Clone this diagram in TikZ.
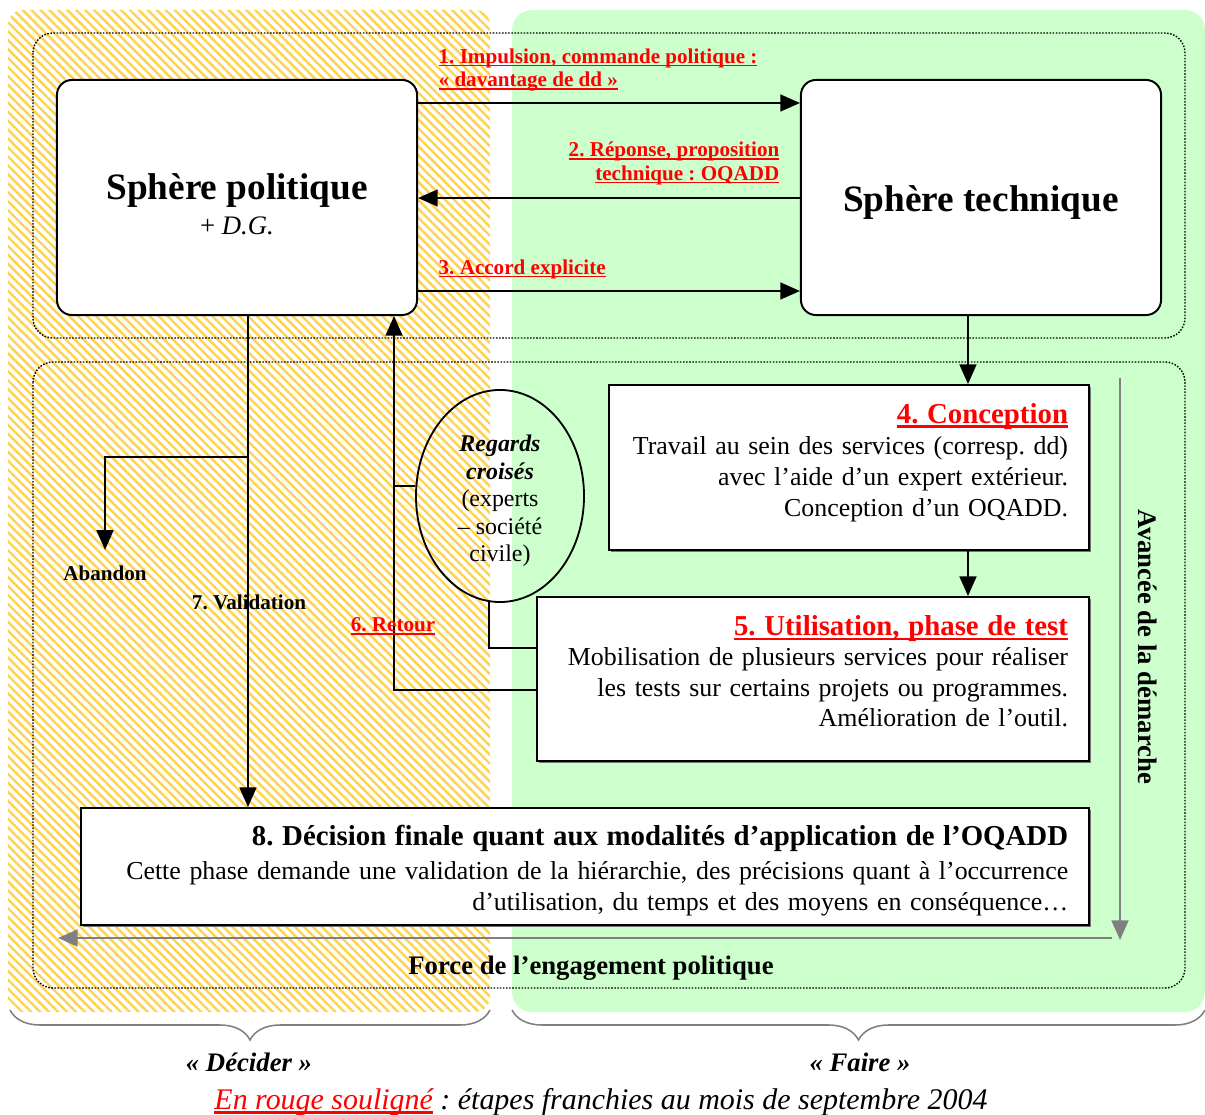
\documentclass[tikz,border=0pt]{standalone}
\usepackage{fontspec}
\setmainfont{Liberation Serif}
\usepackage{xcolor}
\usetikzlibrary{arrows.meta,positioning,calc,shapes.geometric,shadows,
                patterns.meta,decorations.pathreplacing}
\frenchspacing
\definecolor{fairegreen}{HTML}{CCFFCC}
\definecolor{deciderhatch}{HTML}{FFD24D}
\definecolor{avancegrey}{HTML}{808080}
\definecolor{rougeetape}{HTML}{FF0000}
\newsavebox\soulbox
\newcommand{\souligne}[1]{\sbox\soulbox{#1}%
  \rlap{\rule[-0.16em]{\wd\soulbox}{0.09em}}\usebox\soulbox}
\newcommand{\etape}[1]{{\color{rougeetape}\bfseries\souligne{#1}}}
\tikzset{
  sphere/.style={draw, rounded corners=0.375cm, line width=1.4pt, fill=white,
                 minimum width=9cm, minimum height=5.875cm, align=center},
  phase/.style={draw, line width=1.3pt, fill=white, align=right,
                inner xsep=0.525cm, font=\fontsize{18.4}{22}\selectfont,
                drop shadow={shadow xshift=1.5pt, shadow yshift=-1.5pt,
                             fill=black!55, opacity=1}},
  fleche/.style={-{Triangle[length=14pt,width=12pt]}, line width=1.4pt},
  lien/.style={line width=1.4pt},
  guide/.style={-{Triangle[length=14pt,width=12pt]}, line width=1.6pt,
                draw=avancegrey},
  cadre/.style={draw, line width=1pt, dash pattern=on 1.1pt off 1.1pt,
                rounded corners=0.5cm},
  accolade/.style={draw=avancegrey, line width=1.1pt,
                   decorate, decoration={brace, mirror, amplitude=0.75cm}},
  lbl/.style={font=\fontsize{15}{17}\selectfont\bfseries, inner sep=1pt},
  titre/.style={font=\fontsize{19}{22}\selectfont\bfseries, inner sep=1pt},
}

\begin{document}
\begin{tikzpicture}[x=0.025cm, y=-0.025cm]
\useasboundingbox (0,0) rectangle (1205,1115);

% ---------------- decider / faire zones ----------------------------------
\fill[fairegreen, rounded corners=0.5cm] (512,10) rectangle (1205,1012);
\fill[pattern={Lines[angle=-45,distance=4.5pt,line width=1.7pt]},
      pattern color=deciderhatch, rounded corners=0.375cm]
   (8,10) rectangle (490,1012);
\draw[cadre] (33,33) rectangle (1185,338);
\draw[cadre] (33,362) rectangle (1185,988);

% ---------------- the two spheres ----------------------------------------
\node[sphere, font=\fontsize{19}{27}\selectfont] at (237,197.5) (pol)
   {{\fontsize{26.5}{30}\selectfont\bfseries\rule{0pt}{28pt}Sphère politique}\\[-2pt]
    + \textit{D.G.}};
\node[sphere] at (981,197.5) (tech)
   {\fontsize{26.5}{30}\selectfont\bfseries\rule{0pt}{25pt}Sphère technique};

\draw[fleche] ($(pol.east)+(0,-94.5)$) -- ($(tech.west)+(0,-94.5)$);
\draw[fleche] ($(tech.west)+(0,0.5)$) -- ($(pol.east)+(0,0.5)$);
\draw[fleche] ($(pol.east)+(0,93.5)$) -- ($(tech.west)+(0,93.5)$);

\node[lbl, align=left, anchor=west] at (437,70) (impul)
   {\etape{1. Impulsion, commande politique :}\\
    \etape{«~davantage de dd~»}};
\node[lbl, align=right, anchor=east] at (781,163) (repon)
   {\etape{2. Réponse, proposition}\\
    \etape{technique : OQADD}};
\node[lbl, anchor=west] at (437,269) (accord) {\etape{3. Accord explicite}};

% ---------------- conception and test ------------------------------------
\node[phase, minimum width=12cm, minimum height=4.125cm, text width=10.95cm]
   at (849,467.5) (conc)
   {{\fontsize{20.5}{24}\selectfont\etape{4. Conception}}\\
    Travail au sein des services (corresp.~dd)\\
    avec l’aide d’un expert extérieur.\\
    Conception d’un OQADD.\rule[-11pt]{0pt}{1pt}};
\node[phase, minimum width=13.8cm, minimum height=4.1cm, text width=12.75cm]
   at (813,679) (test)
   {{\fontsize{20.5}{24}\selectfont\etape{5. Utilisation, phase de test}}\\[-1pt]
    Mobilisation de plusieurs services pour réaliser\\
    les tests sur certains projets ou programmes.\\
    Amélioration de l’outil.\rule[-11pt]{0pt}{1pt}};
\coordinate (tc) at ($(tech.south)+(-13,0)$);
\draw[fleche] (tc) -- (tc |- conc.north);
\draw[fleche] (tc |- conc.south) -- (tc |- test.north);

% ---------------- regards croises and retour -----------------------------
\node[ellipse, draw, line width=1.3pt, minimum width=4.2cm, minimum height=5.3cm,
      align=center, inner sep=0pt, font=\fontsize{17}{19.6}\selectfont]
   at (500,496) (regard)
   {{\bfseries\itshape\rule{0pt}{19pt}Regards}\\{\bfseries\itshape croisés}\\(experts\\
    – société\\civile)};
\coordinate (retx) at ($(pol.south east)+(-24,0)$);
\draw[fleche] ($(test.west)+(0,11)$) -| (retx);
\draw[lien] (regard.173) -- (regard.173 -| retx);
\draw[lien] (regard.264) |- ($(test.west)+(0,-31)$);
\node[lbl] at (393,626) (retour) {\etape{6. Retour}};

% ---------------- validation / abandon -----------------------------------
\node[phase, minimum width=25.2cm, minimum height=2.925cm, text width=24.15cm,
      font=\fontsize{18.4}{21.5}\selectfont]
   at (585,866.5) (decis)
   {{\fontsize{20.5}{24}\selectfont\bfseries\rule{0pt}{20pt}8. Décision finale quant aux
     modalités d’application de l’OQADD}\\[3pt]
    Cette phase demande une validation de la hiérarchie, des précisions
    quant à l’occurrence\\
    d’utilisation, du temps et des moyens en conséquence…};
\coordinate (valx) at ($(pol.south)+(11,0)$);
\coordinate (abj) at ($(valx)+(0,141)$);
\node[lbl] at (105,573) (aband) {Abandon};
\draw[fleche] (valx) -- (valx |- decis.north);
\draw[fleche] (abj) -| ($(aband.north)+(0,-14)$);
\node[lbl] at (249,602) (valid) {7. Validation};

% ---------------- avancee / force ----------------------------------------
\coordinate (avA) at (1120,378);
\coordinate (avB) at (1120,940);
\coordinate (foA) at (1112,938);
\coordinate (foB) at (58,938);
\draw[guide] (avA) -- (avB);
\draw[guide] (foA) -- (foB);
\node[titre, rotate=-90] at (1148,647) (avance) {Avancée de la démarche};
\node[titre] at (591,968) (force) {Force de l’engagement politique};

% ---------------- braces and legend --------------------------------------
\draw[accolade] (10,1010) -- (490,1010);
\draw[accolade] (512,1010) -- (1205,1010);
\node[titre, font=\fontsize{19}{22}\selectfont\bfseries\itshape]
   at (249,1062) (decider) {«~Décider~»};
\node[titre, font=\fontsize{19}{22}\selectfont\bfseries\itshape]
   at (860,1062) (faire) {«~Faire~»};
\node[font=\fontsize{21.3}{24}\selectfont\itshape] at (601,1102) (legende)
   {{\color{rougeetape}\souligne{En rouge souligné}} : étapes franchies au
    mois de septembre 2004};
\end{tikzpicture}
\end{document}
